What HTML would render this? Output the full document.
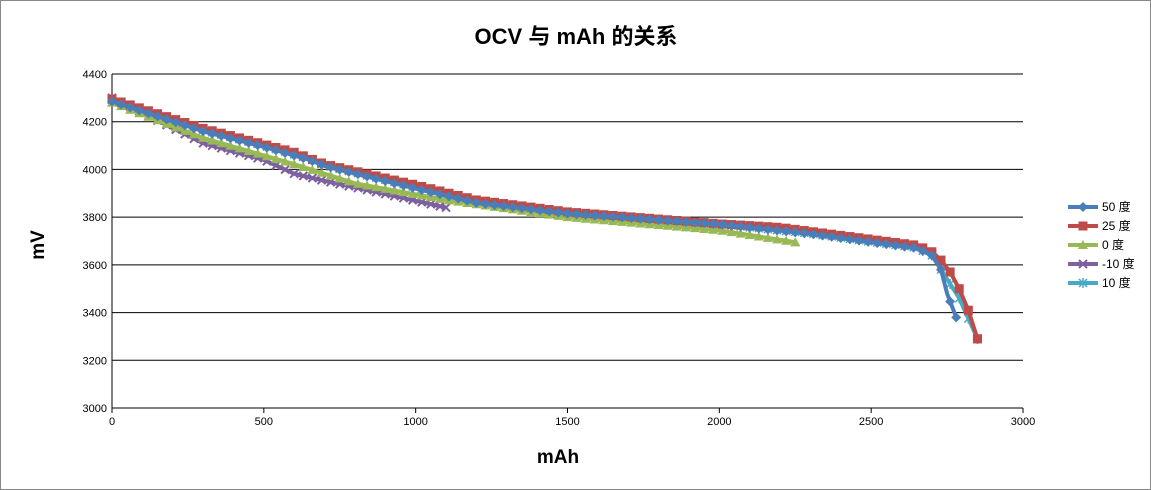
<!DOCTYPE html>
<html><head><meta charset="utf-8"><style>
body{margin:0;background:#fff;}
svg{display:block;font-family:"Liberation Sans","Noto Sans CJK SC",sans-serif;}
</style></head><body>
<svg id="s" width="1151" height="490" xmlns="http://www.w3.org/2000/svg">
<rect x="0.5" y="0.5" width="1150" height="489" fill="#fff" stroke="#888"/>
<text x="576" y="44" text-anchor="middle" font-size="22" font-weight="bold">OCV 与 mAh 的关系</text>
<text x="558" y="463" text-anchor="middle" font-size="19" font-weight="bold">mAh</text>
<text transform="translate(44,245) rotate(-90)" text-anchor="middle" font-size="19" font-weight="bold">mV</text>
<g id="grid"></g>
<g id="series"></g>
<g id="legend" font-size="12"></g>
</svg>
<script>
const NS="http://www.w3.org/2000/svg";
const X=v=>112+v*911/3000, Y=m=>408-(m-3000)*334/1400;
function el(t,a,p){const e=document.createElementNS(NS,t);for(const k in a)e.setAttribute(k,a[k]);(p||document.getElementById('series')).appendChild(e);return e;}
const g=document.getElementById('grid');
for(let m=3000;m<=4400;m+=200){el('line',{x1:112,x2:1023,y1:Y(m),y2:Y(m),stroke:'#000','stroke-width':1},g);
 const t=el('text',{x:107,y:Y(m)+4,'text-anchor':'end','font-size':11},g);t.textContent=m;}
el('line',{x1:112,x2:112,y1:74,y2:408,stroke:'#000'},g);
for(let v=0;v<=3000;v+=500){el('line',{x1:X(v),x2:X(v),y1:408,y2:413,stroke:'#000'},g);
 const t=el('text',{x:X(v),y:425,'text-anchor':'middle','font-size':11},g);t.textContent=v;}
const S={
'50 度':{c:'#4a7ebb',m:'d',p:[[0,4285],[300,4160],[500,4095],[650,4040],[700,4015],[1000,3920],[1200,3860],[1500,3815],[2000,3770],[2300,3730],[2500,3695],[2650,3670],[2700,3640],[2730,3580],[2750,3480],[2780,3380]]},
'25 度':{c:'#be4b48',m:'s',p:[[0,4295],[300,4172],[600,4072],[700,4022],[1000,3935],[1200,3872],[1500,3822],[2000,3772],[2200,3757],[2500,3707],[2650,3682],[2700,3655],[2730,3620],[2760,3570],[2790,3500],[2820,3410],[2850,3290]]},
'0 度':{c:'#98b954',m:'t',p:[[0,4280],[300,4132],[600,4022],[800,3942],[1100,3872],[1500,3800],[2000,3745],[2250,3695]]},
'-10 度':{c:'#7d60a0',m:'x',p:[[0,4300],[300,4110],[500,4040],[600,3982],[700,3952],[900,3897],[1100,3840]]},
'10 度':{c:'#46aac5',m:'a',p:[[0,4290],[300,4165],[500,4100],[650,4045],[700,4018],[1000,3925],[1200,3862],[1500,3817],[2000,3770],[2300,3732],[2500,3697],[2650,3672],[2700,3640],[2740,3560],[2790,3460],[2850,3290]]}};
function interp(p,v){for(let i=1;i<p.length;i++)if(v<=p[i][0]){const a=p[i-1],b=p[i];return a[1]+(b[1]-a[1])*(v-a[0])/(b[0]-a[0]);}return p[p.length-1][1];}
function marker(k,x,y,c,par){
 if(k=='d')el('polygon',{points:`${x},${y-5} ${x+5},${y} ${x},${y+5} ${x-5},${y}`,fill:c},par);
 else if(k=='s')el('rect',{x:x-4.5,y:y-4.5,width:9,height:9,fill:c},par);
 else if(k=='t')el('polygon',{points:`${x},${y-5} ${x+5},${y+4} ${x-5},${y+4}`,fill:c},par);
 else if(k=='x'){el('path',{d:`M${x-4},${y-4}L${x+4},${y+4}M${x+4},${y-4}L${x-4},${y+4}`,stroke:c,'stroke-width':2},par);}
 else {el('path',{d:`M${x-4},${y-4}L${x+4},${y+4}M${x+4},${y-4}L${x-4},${y+4}M${x},${y-5}L${x},${y+5}`,stroke:c,'stroke-width':1.5},par);}
}
const order=['10 度','-10 度','0 度','25 度','50 度'];
for(const n of order){const s=S[n];const p=s.p,last=p[p.length-1][0];
 const pts=[];for(let v=0;v<=last;v+=10)pts.push([X(v),Y(interp(p,v))]);pts.push([X(last),Y(p[p.length-1][1])]);
 el('polyline',{points:pts.map(q=>q.join(',')).join(' '),fill:'none',stroke:s.c,'stroke-width':4,'stroke-linejoin':'round'});
 for(let v=0;v<=last;v+=30)marker(s.m,X(v),Y(interp(p,v)),s.c);
 marker(s.m,X(last),Y(p[p.length-1][1]),s.c);}
const L=document.getElementById('legend');
['50 度','25 度','0 度','-10 度','10 度'].forEach((n,i)=>{const y=207+i*19;const s=S[n];
 el('line',{x1:1068,x2:1098,y1:y,y2:y,stroke:s.c,'stroke-width':4},L);marker(s.m,1083,y,s.c,L);
 const t=el('text',{x:1102,y:y+4},L);t.textContent=n;});
</script>
</body></html>
